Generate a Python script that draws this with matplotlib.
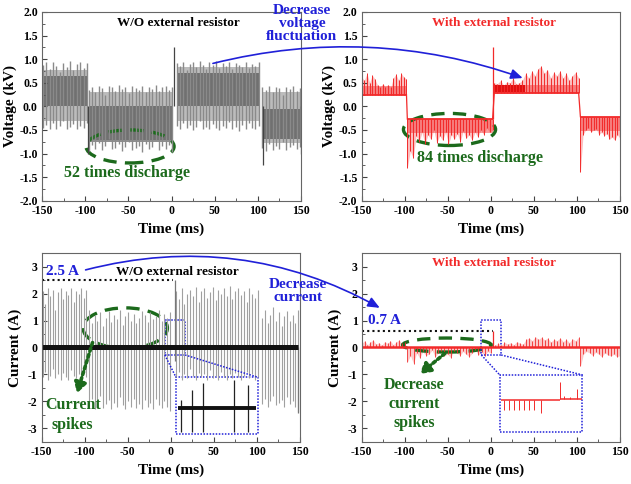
"""Voltage / current traces with and without the external resistor (2x2 panels)."""
import matplotlib.pyplot as plt, numpy as np
from matplotlib.patches import Ellipse, Rectangle, ConnectionPatch
from matplotlib.ticker import MultipleLocator, FormatStrFormatter

plt.rcParams['font.family'] = ['Liberation Serif', 'DejaVu Serif']
plt.rcParams['font.weight'] = 'bold'
plt.rcParams['axes.unicode_minus'] = False

GREEN, BLUE, RED = '#1c6a1c', '#2020d8', '#f22a2a'

# ---- voltage, W/O resistor: spans (ms), spike tops / bottoms (kV), dense core
vwo_seg = [(-149, -98), (-96, 1), (6, 101), (105, 149)]
vwo_hi = [[0.88, 0.93, 0.80, 0.95, 0.86, 0.72, 0.91, 0.84, 0.96, 0.78, 0.90, 0.94, 0.82, 0.92],
          [0.35, 0.42, 0.30, 0.44, 0.38, 0.25, 0.43, 0.40, 0.33, 0.45, 0.36, 0.41, 0.28,
           0.44, 0.39, 0.34, 0.43, 0.30, 0.42, 0.37, 0.45, 0.32, 0.40, 0.44, 0.35, 0.41],
          [0.92, 0.85, 0.95, 0.78, 0.90, 0.94, 0.83, 0.96, 0.88, 0.80, 0.93, 0.87, 0.97,
           0.82, 0.91, 0.86, 0.94, 0.79, 0.92, 0.88, 0.84, 0.95, 0.81, 0.90, 0.86, 0.93],
          [0.40, 0.35, 0.44, 0.30, 0.42, 0.38, 0.25, 0.41, 0.36, 0.43, 0.32, 0.39]]
vwo_lo = [[-0.46, -0.40, -0.48, -0.35, -0.47, -0.42, -0.30, -0.47, -0.44, -0.38, -0.49, -0.41, -0.46, -0.36],
          [-0.95, -0.82, -0.90, -0.78, -0.93, -0.85, -0.70, -0.91, -0.88, -0.80, -0.94, -0.86, -0.75,
           -0.92, -0.89, -0.83, -0.96, -0.79, -0.90, -0.87, -0.72, -0.93, -0.85, -0.91, -0.82, -0.97],
          [-0.42, -0.48, -0.35, -0.46, -0.40, -0.50, -0.44, -0.30, -0.47, -0.43, -0.49, -0.38, -0.45,
           -0.51, -0.41, -0.46, -0.33, -0.48, -0.44, -0.52, -0.40, -0.47, -0.36, -0.45, -0.49, -0.42],
          [-0.88, -0.95, -0.80, -0.92, -0.85, -0.90, -0.75, -0.93, -0.86, -0.82, -0.91, -0.87]]
vwo_core = [(0.0, 0.65), (-0.75, 0.0), (0.0, 0.70), (-0.70, -0.05)]
vwo_spk_t = [-97, 3, 106, 150]
vwo_spk_v = [-1.0, 1.25, -1.25, -1.0]

# ---- voltage, with resistor: spans, flat level and excursion tips (kV)
vw_seg = [(-150, -98), (-97, 2), (4, 102), (104, 150)]
vw_base = [0.25, -0.27, 0.28, -0.22]
vw_env = [[0.62, 0.55, 0.70, 0.50, 0.66, 0.58, 0.45, 0.40, 0.48, 0.42, 0.46, 0.40, 0.60, 0.68, 0.55, 0.70, 0.62, 0.58],
          [-1.30, -0.95, -1.10, -0.62, -0.75, -0.55, -0.80, -0.60, -0.70, -0.50, -0.78, -0.62, -0.72, -0.55, -0.80,
           -0.60, -0.70, -0.58, -0.75, -0.52, -0.68, -0.60, -0.72, -0.55, -0.65, -0.50, -0.60, -0.45, -0.55, -0.50],
          [0.50, 0.48, 0.55, 0.45, 0.52, 0.50, 0.60, 0.48, 0.50, 0.55, 0.70, 0.60, 0.75, 0.65,
           0.80, 0.85, 0.70, 0.78, 0.60, 0.72, 0.65, 0.75, 0.60, 0.70, 0.55, 0.65, 0.72, 0.60],
          [-1.40, -0.60, -0.50, -0.45, -0.55, -0.50, -0.48, -0.60, -0.55, -0.62, -0.58, -0.70, -0.65, -0.72, -0.60, -0.68]]
vw_spk_t = [3]
vw_spk_v = [1.25]

# ---- current, W/O resistor: spike tops / bottoms (A)
iwo_seg = [(-149, -98), (-95, -1), (6, 101), (106, 148)]
iwo_hi = [[2.10, 1.60, 2.20, 1.90, 2.15, 1.40, 2.05, 2.20, 1.80, 2.10, 1.95, 2.20, 1.70, 2.10, 2.00, 2.20, 1.85, 2.15],
          [1.40, 0.90, 1.20, 1.00, 1.30, 0.80, 1.10, 1.35, 0.95, 1.20, 1.05, 1.40, 0.85, 1.15, 1.30,
           1.00, 1.25, 0.90, 1.10, 1.35, 1.20, 0.95, 1.30, 1.05, 1.15, 1.40, 1.00, 1.25, 1.10, 1.30],
          [2.10, 1.80, 2.20, 1.60, 2.00, 2.15, 1.90, 2.25, 1.70, 2.10, 2.20, 1.85, 2.05, 2.25, 1.75,
           2.15, 2.00, 2.20, 1.90, 2.30, 1.80, 2.10, 2.20, 1.95, 2.10, 1.70, 2.20, 2.00, 1.85, 2.15],
          [1.10, 1.40, 0.90, 1.20, 1.50, 1.00, 1.30, 0.80, 1.15, 1.35, 1.00, 1.20, 0.90, 1.40]]
iwo_lo = [[-1.10, -0.90, -1.20, -1.05, -0.80, -1.15, -1.00, -1.20, -0.95, -1.10, -1.20, -0.85, -1.05, -1.15, -1.00, -1.20, -0.90, -1.10],
          [-2.20, -1.90, -2.30, -2.00, -1.80, -2.25, -2.10, -1.95, -2.30, -2.05, -2.20, -1.85, -2.15, -2.30, -2.00,
           -2.20, -1.90, -2.25, -2.10, -2.30, -1.95, -2.20, -2.05, -2.30, -1.90, -2.15, -2.25, -2.00, -2.20, -2.35],
          [-1.10, -0.90, -1.20, -1.00, -1.15, -0.80, -1.05, -1.20, -0.95, -1.10, -1.00, -1.20, -0.85, -1.15, -1.05,
           -1.20, -0.90, -1.10, -1.20, -1.00, -1.15, -0.95, -1.10, -1.20, -1.05, -0.90, -1.15, -1.00, -1.20, -1.10],
          [-2.10, -1.90, -2.20, -2.00, -1.80, -2.15, -2.05, -1.95, -2.20, -1.85, -2.10, -2.00, -2.20, -2.40]]
iwo_spk_t = [5]
iwo_spk_hi = [2.5]
iwo_spk_lo = [-0.5]
# zoomed inset (drawn inside the blue box)
iwo_ins_t = [12, 24, 37, 73.5, 90]
iwo_ins_hi = [-1.95, -1.58, -1.32, -1.21, -1.39]
iwo_ins_lo = [-3.13, -3.13, -3.13, -3.13, -3.13]

# ---- current, with resistor: excursion tips from zero (A)
iw_seg = [(-150, -100), (-97, 0), (5, 102), (104, 150)]
iw_env = [[0.15, 0.25, 0.10, 0.20, 0.28, 0.12, 0.18, 0.08, 0.22, 0.15, 0.25, 0.10, 0.20, 0.28, 0.15, 0.22],
          [-0.55, -0.30, -0.60, -0.20, -0.40, -0.15, -0.30, -0.25, -0.10, -0.35, -0.20, -0.15, -0.30, -0.25,
           -0.38, -0.12, -0.20, -0.30, -0.15, -0.25, -0.35, -0.20, -0.10, -0.28, -0.18, -0.30, -0.15, -0.22],
          [0.10, 0.15, 0.08, 0.20, 0.12, 0.18, 0.10, 0.22, 0.15, 0.12, 0.30, 0.35, 0.25, 0.40,
           0.30, 0.38, 0.28, 0.35, 0.20, 0.30, 0.25, 0.35, 0.22, 0.30, 0.18, 0.32, 0.25, 0.38],
          [-0.70, -0.25, -0.15, -0.20, -0.30, -0.18, -0.25, -0.35, -0.20, -0.28, -0.32, -0.25, -0.35, -0.30]]
iw_spk_t = [2]
iw_spk_v = [0.6]
iw_ins_dn_t = [15.2, 21, 26.8, 32.6, 38.4, 44.2, 50, 57.7]
iw_ins_dn_v = [-2.32, -2.32, -2.32, -2.32, -2.32, -2.32, -2.32, -2.45]
iw_ins_up_t = [79.8, 84.5, 91.4, 99.9]
iw_ins_up_v = [-1.27, -1.80, -1.85, -1.55]

W, H = 631, 484
fig = plt.figure(figsize=(W / 100, H / 100), dpi=100)
def box(x0, y0, x1, y1):
    return [x0 / W, 1 - y1 / H, (x1 - x0) / W, (y1 - y0) / H]
ax1 = fig.add_axes(box(42, 12, 301, 200.7))
ax2 = fig.add_axes(box(361.7, 12, 620, 200.7))
ax3 = fig.add_axes(box(41.7, 253.2, 300, 441.7))
ax4 = fig.add_axes(box(361.7, 253.2, 620, 441.7))

def style(ax, volt):
    ax.set_xlim(-150, 150)
    ax.xaxis.set_major_locator(MultipleLocator(50)); ax.xaxis.set_minor_locator(MultipleLocator(25))
    if volt:
        ax.set_ylim(-2, 2)
        ax.yaxis.set_major_locator(MultipleLocator(0.5)); ax.yaxis.set_minor_locator(MultipleLocator(0.25))
        ax.yaxis.set_major_formatter(FormatStrFormatter('%.1f'))
        ax.set_ylabel('Voltage (kV)', fontsize=11, fontweight='bold', labelpad=2)
    else:
        ax.set_ylim(-3.5, 3.5)
        ax.yaxis.set_major_locator(MultipleLocator(1)); ax.yaxis.set_minor_locator(MultipleLocator(0.5))
        ax.set_ylabel('Current (A)', fontsize=11, fontweight='bold', labelpad=4)
    ax.set_xlabel('Time (ms)', fontsize=11, fontweight='bold', labelpad=4)
    ax.tick_params(which='both', direction='in', labelsize=8.5, pad=3, color='#444')
    ax.tick_params(which='major', length=3.5); ax.tick_params(which='minor', length=2)
    for s in ax.spines.values():
        s.set_color('#666'); s.set_linewidth(0.8)
    for lab in ax.get_xticklabels() + ax.get_yticklabels():
        lab.set_fontweight('bold')

# ---- panel 1
for seg, hi, lo, core in zip(vwo_seg, vwo_hi, vwo_lo, vwo_core):
    t = np.linspace(seg[0], seg[1], len(hi))
    ax1.fill_between([seg[0], seg[1]], max(lo) - 0.02, min(hi) + 0.05, color='#bcbcbc', lw=0)
    ax1.vlines(t, lo, hi, color='#8a8a8a', lw=1.0)
    ax1.fill_between([seg[0], seg[1]], core[0], core[1], color='#333', alpha=0.55, lw=0)
ax1.vlines(vwo_spk_t, 0, vwo_spk_v, color='#444', lw=0.9)
ax1.text(8, 1.76, 'W/O external resistor', ha='center', va='center', fontsize=9.5, fontweight='bold')
ax1.add_patch(Ellipse((-48, -0.85), 102, 0.7, fill=False, ec=GREEN, lw=2.4, ls=(0, (4, 2.5))))
ax1.text(-52, -1.42, '52 times discharge', ha='center', va='center', fontsize=11.5, fontweight='bold', color=GREEN)

# ---- panel 2
for seg, base, env in zip(vw_seg, vw_base, vw_env):
    t = np.linspace(seg[0], seg[1], len(env))
    ax2.fill_between(t, base, env, color=RED, alpha=0.3, lw=0)
    ax2.vlines(t, base, env, color=RED, lw=0.7)
    ax2.hlines(base, seg[0], seg[1], color=RED, lw=1.3)
    dense = [base, base + 0.18] if base > 0 else [base - 0.3, base]
    ax2.fill_between([seg[0], seg[1]], dense[0], dense[1], color=RED, alpha=0.45, lw=0)
for (s0, b0), (s1, b1) in zip(zip(vw_seg, vw_base), zip(vw_seg[1:], vw_base[1:])):
    ax2.plot([s0[1], s1[0]], [b0, b1], color=RED, lw=0.9)
ax2.vlines(vw_spk_t, vw_base[1], vw_spk_v, color=RED, lw=0.9)
ax2.fill_between([5, 40], 0.3, 0.45, color='#e01010', lw=0)
ax2.text(4, 1.76, 'With external resistor', ha='center', va='center', fontsize=9.5, fontweight='bold', color=RED)
ax2.add_patch(Ellipse((-48, -0.49), 107, 0.68, fill=False, ec=GREEN, lw=2.4, ls=(0, (4, 2.5))))
ax2.text(-13, -1.1, '84 times discharge', ha='center', va='center', fontsize=11.5, fontweight='bold', color=GREEN)

# ---- panel 3
for seg, hi, lo in zip(iwo_seg, iwo_hi, iwo_lo):
    t = np.linspace(seg[0], seg[1], len(hi))
    ax3.vlines(t, lo, hi, color='#a0a0a0', lw=0.8)
ax3.vlines(iwo_spk_t, iwo_spk_lo, iwo_spk_hi, color='#777', lw=0.9)
ax3.vlines([148], -2.45, 0, color='#777', lw=0.9)
ax3.hlines(0, -150, 148, color='#111', lw=3.6)
ax3.hlines(2.5, -150, 3, color='#111', lw=1.5, ls=(0, (1, 1.5)))
ax3.text(-145, 2.82, '2.5 A', ha='left', va='center', fontsize=11, fontweight='bold', color=BLUE)
ax3.text(8, 2.82, 'W/O external resistor', ha='center', va='center', fontsize=9.5, fontweight='bold')
ax3.add_patch(Ellipse((-53, 0.72), 98, 1.5, fill=False, ec=GREEN, lw=2.4, ls=(0, (4, 2.5))))
ax3.annotate('', xy=(-110, -1.8), xytext=(-90, 0.28),
             arrowprops=dict(arrowstyle='-|>,head_length=0.6,head_width=0.35', color=GREEN, lw=2.6, ls=(0, (0.8, 0.9))))
ax3.text(-114, -2.13, 'Current', ha='center', va='center', fontsize=11.5, fontweight='bold', color=GREEN)
ax3.text(-114, -2.88, 'spikes', ha='center', va='center', fontsize=11.5, fontweight='bold', color=GREEN)
dot = dict(fill=False, ec=BLUE, lw=1.1, ls=(0, (1, 1)))
ax3.add_patch(Rectangle((-7, -0.28), 23.5, 1.3, **dot))
ax3.add_patch(Rectangle((6, -3.21), 95.5, 2.1, **dot))
ax3.plot([-7, 6], [-0.28, -1.11], color=BLUE, lw=1.1, ls=(0, (1, 1)))
ax3.plot([16.5, 101.5], [-0.28, -1.11], color=BLUE, lw=1.1, ls=(0, (1, 1)))
ax3.vlines(iwo_ins_t, iwo_ins_lo, iwo_ins_hi, color='#222', lw=0.9)
ax3.hlines(-2.24, 8, 99, color='#111', lw=2.8)

# ---- panel 4
for seg, env in zip(iw_seg, iw_env):
    t = np.linspace(seg[0], seg[1], len(env))
    ax4.fill_between(t, 0, env, color=RED, alpha=0.25, lw=0)
    ax4.vlines(t, 0, env, color=RED, lw=0.6)
ax4.vlines(iw_spk_t, 0, iw_spk_v, color=RED, lw=0.9)
ax4.hlines(0, -150, 150, color=RED, lw=1.8)
ax4.hlines(0.6, -150, 3, color='#111', lw=1.5, ls=(0, (1, 1.5)))
ax4.text(-143, 1.0, '0.7 A', ha='left', va='center', fontsize=11, fontweight='bold', color=BLUE)
ax4.text(4, 3.13, 'With external resistor', ha='center', va='center', fontsize=9.5, fontweight='bold', color=RED)
ax4.add_patch(Ellipse((-51, 0.09), 103, 0.52, fill=False, ec=GREEN, lw=2.4, ls=(0, (4, 2.5))))
ax4.annotate('', xy=(-85, -1.05), xytext=(-51, -0.16),
             arrowprops=dict(arrowstyle='-|>,head_length=0.6,head_width=0.35', color=GREEN, lw=2.6, ls=(0, (0.8, 0.9))))
for y, s in zip([-1.39, -2.11, -2.81], ['Decrease', 'current', 'spikes']):
    ax4.text(-89, y, s, ha='center', va='center', fontsize=11.5, fontweight='bold', color=GREEN)
ax4.add_patch(Rectangle((-11, -0.28), 23, 1.3, **dot))
ax4.add_patch(Rectangle((10.3, -3.15), 96, 2.13, **dot))
ax4.plot([-11, 10.3], [-0.28, -1.02], color=BLUE, lw=1.1, ls=(0, (1, 1)))
ax4.plot([12, 106.3], [-0.28, -1.02], color=BLUE, lw=1.1, ls=(0, (1, 1)))
ax4.hlines(-1.97, 12, 80, color=RED, lw=1.1)
ax4.hlines(-1.92, 80, 106, color=RED, lw=1.1)
ax4.vlines(iw_ins_dn_t, -1.97, iw_ins_dn_v, color=RED, lw=0.7)
ax4.vlines(iw_ins_up_t, -1.92, iw_ins_up_v, color=RED, lw=0.7)

for ax, v in zip([ax1, ax2, ax3, ax4], [True, True, False, False]):
    style(ax, v)

# ---- blue cross-panel arrows and captions
arr = dict(arrowstyle='-|>,head_length=0.7,head_width=0.3', color=BLUE, lw=1.2)
fig.add_artist(ConnectionPatch((48, 0.91), (37, 0.6), 'data', 'data', axesA=ax1, axesB=ax2,
                               connectionstyle='arc3,rad=-0.15', **arr))
fig.add_artist(ConnectionPatch((-99, 2.88), (-129, 1.47), 'data', 'data', axesA=ax3, axesB=ax4,
                               connectionstyle='arc3,rad=-0.2', **arr))
fig.text(302 / W, 1 - 24 / H, 'Decrease\nvoltage\nfluctuation', ha='center', va='center',
         fontsize=11, fontweight='bold', color=BLUE, linespacing=1.0)
fig.text(298 / W, 1 - 291 / H, 'Decrease\ncurrent', ha='center', va='center',
         fontsize=11, fontweight='bold', color=BLUE, linespacing=1.05)

fig.savefig('out.png', dpi=100)
print('ok')
